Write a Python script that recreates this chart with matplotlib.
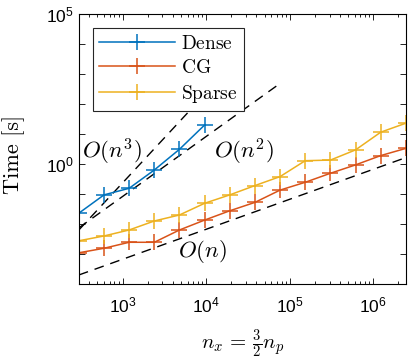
import numpy as np
import matplotlib
matplotlib.use("Agg")
import matplotlib.pyplot as plt
from matplotlib.ticker import LogLocator, NullFormatter, FixedLocator

plt.rcParams['font.family'] = ['Liberation Sans', 'DejaVu Sans']
plt.rcParams['mathtext.fontset'] = 'cm'

# data
k_all = np.arange(14)
n_x = 300 * 2.0 ** k_all
dense_x = n_x[:6]
dense_log = [-1.64, -1.03, -0.81, -0.20, 0.49, 1.30]
cg_log = [-2.96, -2.81, -2.61, -2.61, -2.20, -1.87, -1.56, -1.28, -0.87, -0.61,
          -0.31, -0.03, 0.28, 0.52]
sparse_log = [-2.56, -2.40, -2.20, -1.90, -1.70, -1.31, -1.03, -0.72, -0.42, 0.11,
              0.13, 0.47, 1.06, 1.36]
dense_t = 10.0 ** np.array(dense_log)
cg_t = 10.0 ** np.array(cg_log)
sparse_t = 10.0 ** np.array(sparse_log)

# reference slopes: (coefficient at n=300, exponent, x range)
ref_n1 = (10 ** -3.7, 1, n_x)
ref_n2 = (10 ** -2.13, 2, n_x[:9])
ref_n3 = (10 ** -2.2, 3, n_x[:7])

blue = '#0072BD'
red = '#D95319'
yellow = '#EDB120'

fig = plt.figure(figsize=(4.15, 3.59), dpi=100)
ax = fig.add_axes([0.190, 0.209, 0.788, 0.752])

for c, p, xs in (ref_n1, ref_n2, ref_n3):
    ax.loglog(xs, c * (xs / 300.0) ** p, color='black', lw=1.0, dashes=(7, 5))

kw = dict(marker='+', markersize=11, markeredgewidth=1.1, lw=1.1)
ax.loglog(dense_x, dense_t, color=blue, label=r'$\mathrm{Dense}$', **kw)
ax.loglog(n_x, cg_t, color=red, label=r'$\mathrm{CG}$', **kw)
ax.loglog(n_x, sparse_t, color=yellow, label=r'$\mathrm{Sparse}$', **kw)

ax.set_xlim(n_x[0], n_x[-1])
ax.set_ylim(1e-4, 1e5)

ax.xaxis.set_major_locator(FixedLocator([1e3, 1e4, 1e5, 1e6]))
ax.xaxis.set_minor_locator(LogLocator(base=10, subs=np.arange(2, 10), numticks=20))
ax.xaxis.set_minor_formatter(NullFormatter())
ax.yaxis.set_major_locator(FixedLocator([10.0 ** e for e in range(-4, 6)]))
ax.yaxis.set_minor_locator(FixedLocator([]))
ax.set_yticklabels(['' if e not in (0, 5) else r'$\mathdefault{10^{%d}}$' % e
                    for e in range(-4, 6)])

ax.tick_params(which='both', direction='in', top=True, right=True, labelsize=12.5)
ax.tick_params(which='major', length=4, width=0.6)
ax.tick_params(which='minor', length=2, width=0.6)
ax.tick_params(axis='x', pad=8)
for s in ax.spines.values():
    s.set_linewidth(0.8)

ax.set_xlabel(r'$n_x\,=\,\frac{3}{2}n_p$', fontsize=15)
ax.xaxis.set_label_coords(0.5, -0.16)
ax.xaxis.label.set_va('top')
ax.set_ylabel('Time [s]', fontsize=16, family=['cmr10', 'DejaVu Serif'])
ax.yaxis.set_label_coords(-0.165, 0.478)

ax.text(326, 10 ** 0.4, r'$O(n^3)$', fontsize=16.5, ha='left', va='center')
ax.text(12600, 10 ** 0.4, r'$O(n^2)$', fontsize=16.5, ha='left', va='center')
ax.text(4575, 10 ** -2.93, r'$O(n)$', fontsize=16.5, ha='left', va='center')

leg = ax.legend(loc='upper left', bbox_to_anchor=(0.042, 0.948), fontsize=14,
                handlelength=3.9, frameon=True, fancybox=False, edgecolor='#262626',
                framealpha=1, borderpad=0.35, labelspacing=0.3, handletextpad=0.3,
                borderaxespad=0)
leg.get_frame().set_linewidth(0.8)

fig.savefig('out.png', dpi=100)
